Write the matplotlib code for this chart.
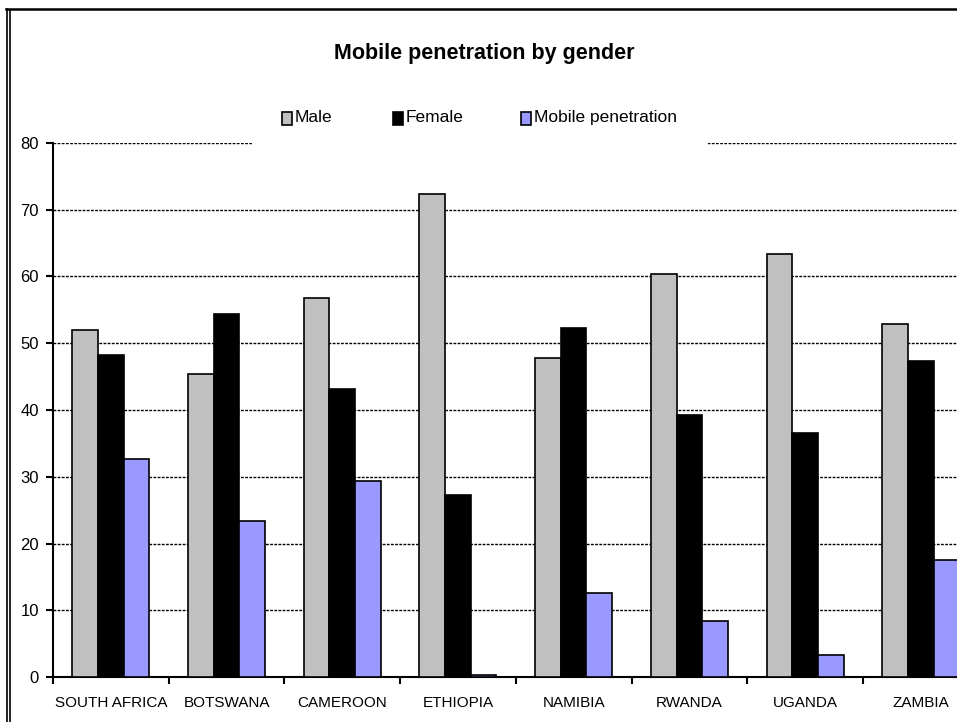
import matplotlib
matplotlib.use("Agg")
import matplotlib.pyplot as plt
import numpy as np
from matplotlib.lines import Line2D
from matplotlib.patches import Rectangle

plt.rcParams['font.family'] = ['Liberation Sans', 'DejaVu Sans']

countries = ["SOUTH AFRICA", "BOTSWANA", "CAMEROON", "ETHIOPIA",
             "NAMIBIA", "RWANDA", "UGANDA", "ZAMBIA"]
male = [52.0, 45.4, 56.8, 72.3, 47.8, 60.3, 63.3, 52.9]
female = [48.2, 54.4, 43.1, 27.3, 52.3, 39.3, 36.5, 47.3]
mobile_penetration = [32.6, 23.3, 29.3, 0.3, 12.6, 8.4, 3.3, 17.6]
y_ticks = [0, 10, 20, 30, 40, 50, 60, 70, 80]
series_names = ["Male", "Female", "Mobile penetration"]
series_colors = ["#c0c0c0", "black", "#9999ff"]

W, H = 957, 722
fig = plt.figure(figsize=(W / 100, H / 100), dpi=100)

# plot area: y-axis at x=53, zero line at y=677, top at y=143; 8 slots of ~115.7 px
left, right, top, bottom = 53, 53 + 8 * 115.7, 143, 677
ax = fig.add_axes([left / W, (H - bottom) / H, (right - left) / W, (bottom - top) / H])

x = np.arange(len(countries))
bw = 0.222
for off, vals, col, name in zip([-bw, 0, bw], [male, female, mobile_penetration],
                                series_colors, series_names):
    ax.bar(x + off, vals, bw, color=col, edgecolor="black", linewidth=1.2, zorder=3, label=name)

ax.set_xlim(-0.5, len(countries) - 0.5)
ax.set_ylim(0, 80)
ax.set_yticks(y_ticks)
ax.set_yticklabels([str(v) for v in y_ticks], fontsize=12)
ax.set_xticks(x)
ax.set_xticklabels(countries, fontsize=11)
ax.tick_params(axis='x', length=0, pad=14)
# category boundary ticks
ax.set_xticks(np.arange(len(countries) + 1) - 0.5, minor=True)
ax.tick_params(axis='x', which='minor', length=5, width=1.5, direction='out')
ax.tick_params(axis='y', length=5, width=1.5, direction='out', pad=5)

ax.yaxis.grid(True, linestyle=(0, (2, 1)), color="black", linewidth=1.0, zorder=0)
ax.set_axisbelow(True)
for s in ["top", "right"]:
    ax.spines[s].set_visible(False)
ax.spines["left"].set_linewidth(1.5)
ax.spines["bottom"].set_linewidth(1.5)

# legend: white panel over the top gridline, swatches and labels
def fx(v):
    return v / W

def fy(v):
    return (H - v) / H

fig.add_artist(Rectangle((fx(252), fy(150)), (708 - 252) / W, 50 / H, facecolor="white",
                         edgecolor="none", transform=fig.transFigure, zorder=5))
swatch_x = [282, 393, 521]
for sx, col, name in zip(swatch_x, series_colors, series_names):
    fig.add_artist(Rectangle((fx(sx), fy(125)), 10 / W, 13 / H, facecolor=col,
                             edgecolor="black", linewidth=1.2, transform=fig.transFigure, zorder=6))
    fig.text(fx(sx + 13), fy(117.5), name, ha="left", va="center", fontsize=12.5, zorder=7)

fig.text(fx(484), fy(53), "Mobile penetration by gender", ha="center", va="center",
         fontsize=15.5, fontweight="bold")

# double border on the left, single on top
def px_line(xs, ys, lw):
    fig.add_artist(Line2D([fx(v) for v in xs], [fy(v) for v in ys],
                          color="black", linewidth=lw, transform=fig.transFigure))

px_line([6, W], [9, 9], 1.8)
px_line([6.5, 6.5], [9, H], 1.2)
px_line([9.8, 9.8], [11, H], 1.2)

fig.savefig("out.png", dpi=100)
